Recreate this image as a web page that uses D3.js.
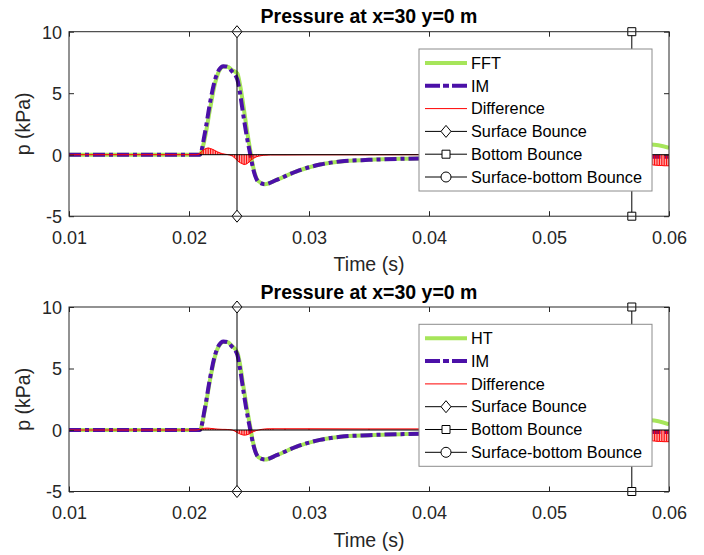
<!DOCTYPE html>
<html lang="en">
<head>
<meta charset="UTF-8">
<title>Pressure at x=30 y=0 m</title>
<style>
  body { margin: 0; background: #fff; }
  svg { font-family: "Liberation Sans", Arial, sans-serif; }
</style>
</head>
<body>
<script src="https://d3js.org/d3.v7.min.js"></script>
<script>
// pressure traces, time in s, pressure in kPa
var time = [0.0100, 0.0209, 0.02133, 0.02175, 0.02217, 0.0225, 0.02286, 0.0232, 0.02356, 0.02403, 0.02425, 0.02453, 0.02481, 0.02508, 0.02536, 0.02578, 0.02633, 0.02731, 0.02897, 0.03092, 0.0326, 0.0350, 0.0380, 0.0420, 0.0460, 0.0500, 0.0540, 0.0560, 0.0575, 0.0585, 0.0600];
var im  = [0, 0, 1.8, 4.2, 6.1, 6.9, 7.2, 7.15, 6.8, 6.1, 5.0, 3.2, 1.5, 0.15, -1.2, -2.2, -2.4, -2.05, -1.35, -0.8, -0.55, -0.42, -0.33, -0.26, -0.21, -0.18, -0.15, -0.15, -0.16, -0.16, -0.17];
var fft = [0, 0, 1.4, 3.7, 5.8, 6.8, 7.15, 7.15, 6.9, 6.6, 5.7, 4.0, 2.1, 0.5, -1.05, -2.15, -2.4, -2.05, -1.35, -0.8, -0.55, -0.42, -0.33, -0.26, -0.21, -0.18, -0.12, 0.3, 0.72, 0.82, 0.55];
var ht  = [0, 0, 1.65, 4.05, 6.0, 6.85, 7.15, 7.15, 6.85, 6.3, 5.35, 3.55, 1.85, 0.4, -1.1, -2.2, -2.4, -2.05, -1.35, -0.8, -0.55, -0.42, -0.33, -0.26, -0.21, -0.18, -0.12, 0.3, 0.72, 0.8, 0.45];

// difference traces (IM - reference)
var diffTime = [0.0100, 0.0206, 0.0208, 0.0210, 0.0212, 0.0214, 0.0216, 0.0218, 0.0220, 0.0222, 0.0224, 0.0226, 0.0228, 0.0230, 0.0232, 0.0234, 0.0236, 0.0238, 0.0240, 0.0242, 0.0244, 0.0246, 0.0248, 0.0250, 0.0252, 0.0254, 0.0256, 0.0258, 0.0260, 0.0262, 0.0264, 0.0266, 0.0268, 0.0270, 0.0280, 0.0300, 0.0350, 0.0400, 0.0450, 0.0500, 0.0540, 0.0560, 0.0570, 0.0578, 0.0582, 0.0584, 0.0586, 0.0588, 0.0590, 0.0592, 0.0594, 0.0596, 0.0598, 0.0600];
var diffFft = [0, 0, 0.05, 0.2, 0.4, 0.5, 0.55, 0.5, 0.42, 0.32, 0.22, 0.14, 0.08, 0.04, 0.01, -0.03, -0.1, -0.25, -0.45, -0.62, -0.72, -0.8, -0.75, -0.6, -0.42, -0.28, -0.18, -0.12, -0.08, -0.05, -0.04, -0.03, -0.02, -0.02, -0.02, -0.01, -0.01, 0, 0, 0, -0.03, -0.4, -0.6, -0.7, -0.75, -0.8, -0.82, -0.85, -0.86, -0.88, -0.88, -0.9, -0.9, -0.9];
var diffHt = [0, 0, 0.03, 0.08, 0.13, 0.15, 0.15, 0.13, 0.11, 0.09, 0.07, 0.06, 0.05, 0.05, 0.04, 0.03, 0, -0.08, -0.2, -0.3, -0.38, -0.42, -0.4, -0.33, -0.22, -0.12, -0.05, 0, 0.04, 0.07, 0.09, 0.1, 0.1, 0.1, 0.1, 0.1, 0.09, 0.09, 0.08, 0.07, 0.05, -0.4, -0.65, -0.75, -0.8, -0.85, -0.88, -0.9, -0.92, -0.93, -0.94, -0.95, -0.95, -0.95];

var surfaceBounce = 0.0240;
var bottomBounce = 0.0569;
var xTicks = [0.01, 0.02, 0.03, 0.04, 0.05, 0.06];
var yTicks = [-5, 0, 5, 10];
var legendTop = ["FFT", "IM", "Difference", "Surface Bounce", "Bottom Bounce", "Surface-bottom Bounce"];
var legendBottom = ["HT", "IM", "Difference", "Surface Bounce", "Bottom Bounce", "Surface-bottom Bounce"];

var green = "#a6e55a", purple = "#4b10a8";

var svg = d3.select("body").append("svg")
  .attr("width", 704)
  .attr("height", 555);

var diamond = "M0,-6L5,0L0,6L-5,0Z";
var square = "M-4,-4H4V4H-4Z";

function panel(top, idx, ref, diff, names) {
  var bottom = top + 184.5;
  var x = d3.scaleLinear().domain([0.01, 0.06]).range([69, 669]);
  var y = d3.scaleLinear().domain([-5, 10]).range([bottom, top]);

  var g = svg.append("g");

  g.append("clipPath").attr("id", "clip" + idx)
    .append("rect")
    .attr("x", 69).attr("y", top)
    .attr("width", 600).attr("height", bottom - top);

  var plot = g.append("g").attr("clip-path", "url(#clip" + idx + ")");

  var line = d3.line()
    .x(function(d, i) { return x(time[i]); })
    .y(function(d) { return y(d); })
    .curve(d3.curveMonotoneX);

  plot.append("path").datum(ref)
    .attr("d", line)
    .attr("fill", "none").attr("stroke", green).attr("stroke-width", 4);

  plot.append("path").datum(im)
    .attr("d", line)
    .attr("fill", "none").attr("stroke", purple).attr("stroke-width", 4)
    .attr("stroke-dasharray", "12,4,4,4");

  // difference: fill + stems + line
  var area = d3.area()
    .x(function(d, i) { return x(diffTime[i]); })
    .y0(y(0))
    .y1(function(d) { return y(d); });
  plot.append("path").datum(diff)
    .attr("d", area)
    .attr("fill", "#ff0000").attr("fill-opacity", 0.35);

  plot.selectAll("line.stem")
    .data(diff)
    .enter()
    .append("line")
    .attr("class", "stem")
    .attr("x1", function(d, i) { return x(diffTime[i]); })
    .attr("x2", function(d, i) { return x(diffTime[i]); })
    .attr("y1", y(0))
    .attr("y2", function(d) { return y(d); })
    .attr("stroke", "#ff0000").attr("stroke-width", 1);

  var dline = d3.line()
    .x(function(d, i) { return x(diffTime[i]); })
    .y(function(d) { return y(d); });
  plot.append("path").datum(diff)
    .attr("d", dline)
    .attr("fill", "none").attr("stroke", "#ff0000").attr("stroke-width", 1);

  // zero line (starts where the pulse arrives)
  plot.append("line")
    .attr("x1", x(0.0209)).attr("x2", x(0.06))
    .attr("y1", y(0)).attr("y2", y(0))
    .attr("stroke", "#000").attr("stroke-width", 1);

  // bounce lines with markers at both ends
  [[surfaceBounce, diamond], [bottomBounce, square]].forEach(function(b) {
    g.append("line")
      .attr("x1", x(b[0])).attr("x2", x(b[0]))
      .attr("y1", y(-5)).attr("y2", y(10))
      .attr("stroke", "#000").attr("stroke-width", 1);
    [10, -5].forEach(function(v) {
      g.append("path")
        .attr("d", b[1])
        .attr("transform", "translate(" + x(b[0]) + "," + y(v) + ")")
        .attr("fill", "#fff").attr("stroke", "#000").attr("stroke-width", 1);
    });
  });

  // axes (ticks inside, box)
  g.append("g")
    .attr("transform", "translate(0," + bottom + ")")
    .call(d3.axisBottom(x).tickValues(xTicks).tickSize(-5).tickFormat(d3.format(".2f")))
    .call(function(a) {
      a.select(".domain").remove();
      a.selectAll("line").attr("stroke", "#262626");
      a.selectAll("text").attr("y", 27.5).attr("dy", null)
        .attr("fill", "#262626").attr("font-size", "18px");
    });
  g.append("g")
    .attr("transform", "translate(0," + top + ")")
    .call(d3.axisTop(x).tickValues(xTicks).tickSize(-5).tickFormat(""))
    .call(function(a) {
      a.select(".domain").remove();
      a.selectAll("line").attr("stroke", "#262626");
    });
  g.append("g")
    .attr("transform", "translate(69,0)")
    .call(d3.axisLeft(y).tickValues(yTicks).tickSize(-5).tickFormat(function(d) { return String(d); }))
    .call(function(a) {
      a.select(".domain").remove();
      a.selectAll("line").attr("stroke", "#262626");
      a.selectAll("text").attr("x", -7).attr("dy", "0.35em")
        .attr("fill", "#262626").attr("font-size", "18px");
    });
  g.append("g")
    .attr("transform", "translate(669,0)")
    .call(d3.axisRight(y).tickValues(yTicks).tickSize(-5).tickFormat(""))
    .call(function(a) {
      a.select(".domain").remove();
      a.selectAll("line").attr("stroke", "#262626");
    });
  g.append("rect")
    .attr("x", 69).attr("y", top)
    .attr("width", 600).attr("height", bottom - top)
    .attr("fill", "none").attr("stroke", "#262626").attr("stroke-width", 1);

  // labels
  g.append("text")
    .attr("x", 369).attr("y", top - 8.3)
    .attr("text-anchor", "middle")
    .attr("font-size", "19.5px").attr("font-weight", "bold")
    .text("Pressure at x=30 y=0 m");
  g.append("text")
    .attr("x", 369).attr("y", bottom + 55)
    .attr("text-anchor", "middle")
    .attr("font-size", "19.5px").attr("fill", "#262626")
    .text("Time (s)");
  g.append("text")
    .attr("transform", "translate(30," + ((top + bottom) / 2) + ") rotate(-90)")
    .attr("text-anchor", "middle")
    .attr("font-size", "19.5px").attr("fill", "#262626")
    .text("p (kPa)");

  // legend
  var lg = g.append("g").attr("transform", "translate(419," + (top + 17.3) + ")");
  lg.append("rect")
    .attr("x", 0).attr("y", 0)
    .attr("width", 233).attr("height", 142)
    .attr("fill", "#fff").attr("stroke", "#8c8c8c").attr("stroke-width", 1);
  names.forEach(function(name, i) {
    var ry = 14 + i * 22.8;
    var s = lg.append("line")
      .attr("x1", 6).attr("x2", 48)
      .attr("y1", ry).attr("y2", ry);
    if (i == 0) s.attr("stroke", green).attr("stroke-width", 4);
    else if (i == 1) s.attr("stroke", purple).attr("stroke-width", 4).attr("stroke-dasharray", "15,3,6,3");
    else if (i == 2) s.attr("stroke", "#ff0000").attr("stroke-width", 1);
    else s.attr("stroke", "#000").attr("stroke-width", 1);
    if (i == 3 || i == 4) {
      lg.append("path").attr("d", i == 3 ? diamond : square)
        .attr("transform", "translate(27," + ry + ")")
        .attr("fill", "#fff").attr("stroke", "#000");
    }
    if (i == 5) {
      lg.append("circle").attr("cx", 27).attr("cy", ry).attr("r", 5)
        .attr("fill", "#fff").attr("stroke", "#000");
    }
    lg.append("text")
      .attr("x", 52).attr("y", ry)
      .attr("dy", "0.35em")
      .attr("font-size", "16.3px").attr("fill", "#000")
      .text(name);
  });
}

panel(31.7, 0, fft, diffFft, legendTop);
panel(307, 1, ht, diffHt, legendBottom);
</script>
</body>
</html>
